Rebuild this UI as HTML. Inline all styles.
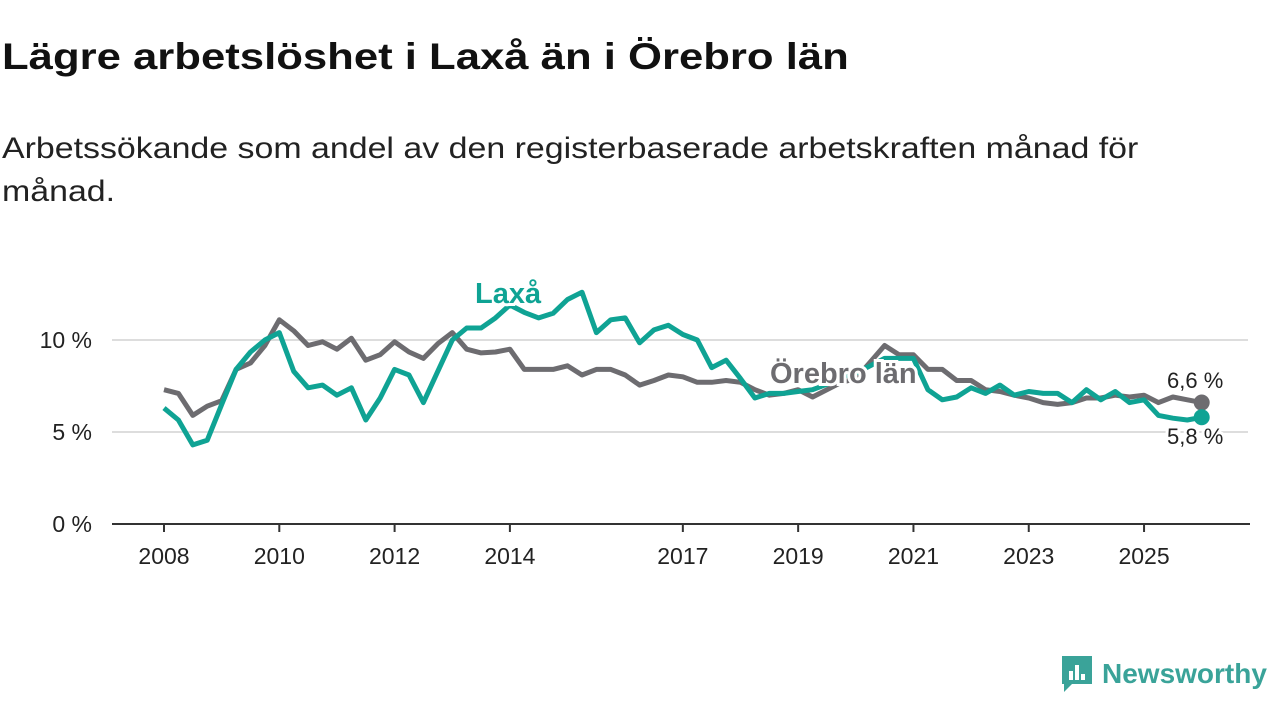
<!DOCTYPE html>
<html><head><meta charset="utf-8">
<style>
body{margin:0;width:1280px;height:720px;background:#fff;font-family:"Liberation Sans","DejaVu Sans",sans-serif;overflow:hidden;position:relative}
h1{position:absolute;left:2px;top:36px;margin:0;font-size:37px;font-weight:bold;color:#111;transform-origin:0 0;transform:scaleX(1.18);white-space:nowrap}
p.sub{position:absolute;left:2px;top:127px;margin:0;font-size:30px;line-height:43px;color:#222;width:1010px;transform-origin:0 0;transform:scaleX(1.13)}
svg{position:absolute;left:0;top:0}
.logo{position:absolute;left:1060px;top:654px;display:flex;align-items:center;color:#3aa399;font-size:28px;font-weight:bold}
</style></head><body>
<h1>Lägre arbetslöshet i Laxå än i Örebro län</h1>
<p class="sub">Arbetssökande som andel av den registerbaserade arbetskraften månad för månad.</p>
<svg id="chart" width="1280" height="720"></svg>
<div class="logo">
<svg width="34" height="40" style="position:static;margin-right:8px"><path d="M2 2h30v28h-20l-8 8v-8h-2z" fill="#3aa399"/><rect x="9" y="17" width="4" height="9" fill="#fff"/><rect x="15" y="11" width="4" height="15" fill="#fff"/><rect x="21" y="20" width="4" height="6" fill="#fff"/></svg>
<span>Newsworthy</span></div>
<script>
const startYear = 2008;
const stepYears = 0.25;
const orebro = [7.3,7.1,5.9,6.4,6.7,8.4,8.75,9.7,11.1,10.5,9.7,9.9,9.5,10.1,8.9,9.2,9.9,9.35,9.0,9.8,10.4,9.5,9.3,9.35,9.5,8.4,8.4,8.4,8.6,8.1,8.4,8.4,8.1,7.55,7.8,8.1,8.0,7.7,7.7,7.8,7.7,7.3,7.0,7.1,7.3,6.9,7.3,7.7,7.9,8.8,9.7,9.2,9.2,8.4,8.4,7.8,7.8,7.3,7.2,7.0,6.85,6.6,6.5,6.6,6.85,6.85,7.0,6.9,7.0,6.6,6.9,6.75,6.6];
const laxa = [6.3,5.65,4.3,4.55,6.5,8.4,9.35,10.0,10.4,8.3,7.4,7.55,7.0,7.4,5.65,6.85,8.4,8.1,6.6,8.3,10.0,10.65,10.65,11.2,11.9,11.5,11.2,11.45,12.2,12.6,10.4,11.1,11.2,9.85,10.55,10.8,10.3,10.0,8.5,8.9,7.9,6.85,7.1,7.1,7.2,7.3,7.6,8.0,8.2,8.6,9.0,9.0,9.0,7.3,6.75,6.9,7.4,7.1,7.55,7.0,7.2,7.1,7.1,6.6,7.3,6.75,7.2,6.6,6.75,5.9,5.75,5.65,5.8];
const yTicks = [0,5,10];
const yTickLabels = ["0 %","5 %","10 %"];
const xTicks = [2008,2010,2012,2014,2017,2019,2021,2023,2025];
const NS="http://www.w3.org/2000/svg";
const svg=document.getElementById('chart');
const x=t=>164+(t-2008)*57.65;
const y=v=>524-v*18.4;
function el(tag,attrs,parent){const e=document.createElementNS(NS,tag);for(const k in attrs)e.setAttribute(k,attrs[k]);(parent||svg).appendChild(e);return e;}
yTicks.forEach((v,i)=>{
  if(v>0){const g=el('line',{x1:112,x2:1248,y1:y(v),y2:y(v),stroke:'#dddddd','stroke-width':2});
  
  }
  const t=el('text',{x:92,y:y(v)+8,'text-anchor':'end','font-size':23,fill:'#222'});
  t.textContent=yTickLabels[i];
  
  
});
const ax=el('line',{x1:112,x2:1250,y1:524,y2:524,stroke:'#333','stroke-width':2});


xTicks.forEach(yr=>{
  const tk=el('line',{x1:x(yr),x2:x(yr),y1:524,y2:532,stroke:'#333','stroke-width':2});
  
  
  const t=el('text',{x:x(yr),y:564,'text-anchor':'middle','font-size':23,fill:'#222'});
  t.textContent=yr;
  
  
});
function line(data,color,name){
  const d=data.map((v,i)=>(i?'L':'M')+x(startYear+i*stepYears).toFixed(1)+','+y(v).toFixed(1)).join('');
  const p=el('path',{d:d,fill:'none',stroke:color,'stroke-width':5,'stroke-linejoin':'round'});
  
  
  const last=data.length-1;
  const c=el('circle',{cx:x(startYear+last*stepYears),cy:y(data[last]),r:8,fill:color});
  
  
}
line(orebro,'#6d6c70','orebro-line');
line(laxa,'#0fa394','laxa-line');
function label(txt,xx,yy,color,size,bold,name,halo){
  const t=el('text',{x:xx,y:yy,'font-size':size,fill:color,'font-weight':bold?'bold':'normal'});
  if(halo){t.setAttribute('stroke','#fff');t.setAttribute('stroke-width',6);t.setAttribute('paint-order','stroke');}
  t.textContent=txt;
  
  
}
label('Laxå',475,303,'#0fa394',29,true,'laxa-label',true);
label('Örebro län',770,383,'#6d6c70',29,true,'orebro-label',true);
label((orebro[orebro.length-1]).toFixed(1).replace('.',',')+' %',1167,388,'#222',22,false,'orebro-end-value',true);
label((laxa[laxa.length-1]).toFixed(1).replace('.',',')+' %',1167,444,'#222',22,false,'laxa-end-value',true);
</script>
</body></html>
